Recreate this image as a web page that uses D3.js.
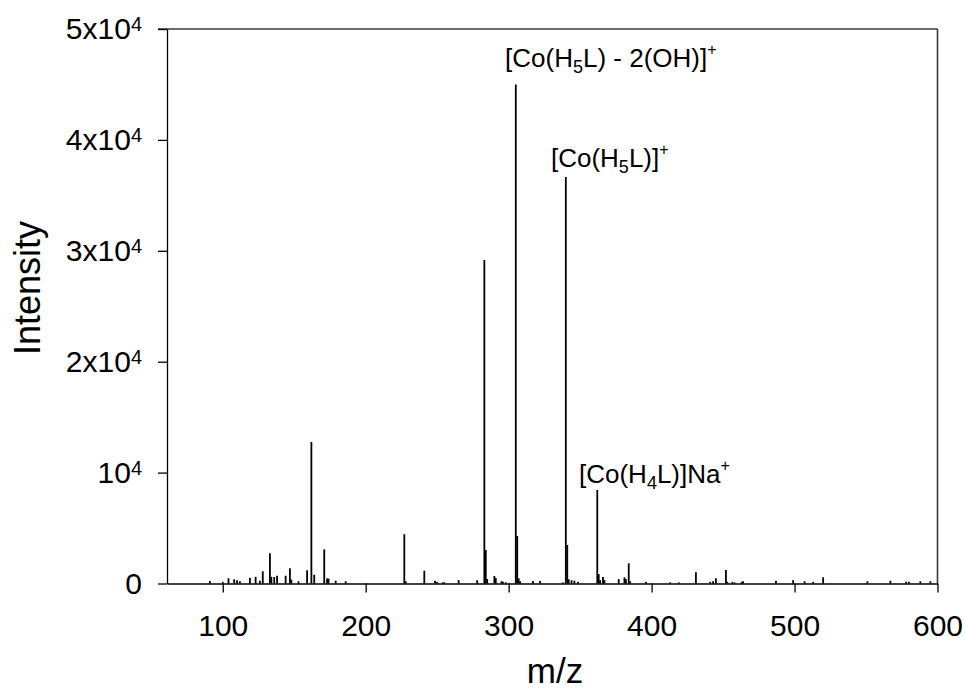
<!DOCTYPE html>
<html>
<head>
<meta charset="utf-8">
<script src="https://cdn.jsdelivr.net/npm/d3@7"></script>
<style>
  body { margin: 0; background: #fff; }
  svg { display: block; font-family: "Liberation Sans", Arial, sans-serif; }
</style>
</head>
<body>
<main></main>
<script>
"use strict";

// peak positions (m/z) and heights
const peakMz = [
  91, 100, 104, 108, 110, 112, 119, 123, 126, 128, 133, 134, 136, 138, 144, 147, 148, 153,
  159, 162, 164, 171, 173, 174, 179, 186, 227, 228, 241, 248.5, 250, 254, 255, 265, 278,
  283, 284, 285, 290, 291, 295, 296, 298, 305, 306, 307, 308, 317, 322, 338, 340, 341, 342,
  344, 346, 348.5, 362, 363, 364, 366, 367, 377, 381, 382, 384, 385, 396, 413, 419, 431,
  441, 443, 445, 452, 453, 456.5, 458, 463, 464, 487, 499, 507, 513, 520, 551, 567, 578,
  580, 588, 595
];
const peakIntensity = [
  225, 150, 470, 380, 300, 200, 520, 600, 250, 1100, 2720, 600, 580, 700, 700, 1370, 350, 200,
  1190, 12760, 790, 3080, 450, 450, 250, 200, 4440, 200, 1150, 250, 150, 100, 100, 310, 290,
  29170, 3020, 400, 680, 500, 200, 150, 100, 45000, 4280, 470, 200, 225, 225, 100, 36650, 3470, 380,
  300, 250, 150, 8430, 850, 300, 590, 300, 400, 560, 400, 1820, 200, 150, 100, 100, 1010,
  150, 200, 470, 1220, 150, 150, 100, 150, 200, 250, 300, 200, 150, 560, 200, 250, 150,
  150, 200, 200
];

const xTicks = [100, 200, 300, 400, 500, 600];
const yTicks = [0, 10000, 20000, 30000, 40000, 50000];

// ion labels: text before subscript, subscript, text after, superscript
const labelParts = [
  ["[Co(H", "5", "L) - 2(OH)]", "+"],
  ["[Co(H", "5", "L)]", "+"],
  ["[Co(H", "4", "L)]Na", "+"]
];
const labelMz = [297.5, 329.6, 349.2];
const labelAt = [46600, 37560, 9060];

const w = 966;
const h = 689;
const plotLeft = 167, plotRight = 937.5, plotTop = 29, plotBottom = 583.5;

const svg = d3.select("main").append("svg").attr("width", w).attr("height", h);

const x = d3.scaleLinear().domain([61, 600]).range([plotLeft, plotRight]);
const y = d3.scaleLinear().domain([0, 50000]).range([plotBottom, plotTop]);

//Frame on top and right
svg.append("line")
  .attr("x1", plotLeft - 9).attr("x2", plotRight)
  .attr("y1", plotTop).attr("y2", plotTop)
  .attr("stroke", "#3a3a3a").attr("stroke-width", 1.6);
svg.append("line")
  .attr("x1", plotRight).attr("x2", plotRight)
  .attr("y1", plotTop).attr("y2", plotBottom)
  .attr("stroke", "#3a3a3a").attr("stroke-width", 1.6);

//Peaks
svg.append("g")
  .selectAll("line")
  .data(peakMz)
  .enter()
  .append("line")
  .attr("x1", (d) => x(d))
  .attr("x2", (d) => x(d))
  .attr("y1", y(0))
  .attr("y2", (d, i) => y(peakIntensity[i]))
  .attr("stroke", "#000")
  .attr("stroke-width", 1.8);

//x Axis
const xAxis = d3.axisBottom(x).tickValues(xTicks).tickSize(9).tickSizeOuter(0).tickPadding(22);
const gx = svg.append("g").attr("transform", `translate(0, ${plotBottom})`).call(xAxis);
gx.attr("font-family", null).attr("font-size", 30);
gx.select(".domain").attr("stroke-width", 1.5);
gx.selectAll(".tick line").attr("stroke-width", 1.3);
gx.selectAll(".tick text").attr("fill", "#000");

//y Axis
const yAxis = d3.axisLeft(y).tickValues(yTicks).tickSize(9).tickSizeOuter(0).tickPadding(16);
const gy = svg.append("g").attr("transform", `translate(${plotLeft}, 0)`).call(yAxis);
gy.attr("font-family", null).attr("font-size", 30);
gy.select(".domain").attr("stroke-width", 1.3);
gy.selectAll(".tick line").attr("stroke-width", 1.3);
gy.selectAll(".tick text").each(function (d) {
  const t = d3.select(this).text(null).attr("fill", "#000");
  if (d === 0) {
    t.text("0");
    return;
  }
  const m = d / 10000;
  t.append("tspan").text(m === 1 ? "10" : `${m}x10`);
  t.append("tspan").attr("font-size", 20).attr("dy", -8).text("4");
});

//Axis titles
svg.append("text")
  .attr("transform", `translate(40, 288) rotate(-90)`)
  .attr("text-anchor", "middle")
  .attr("font-size", 36)
  .text("Intensity");
svg.append("text")
  .attr("x", 555).attr("y", 683)
  .attr("text-anchor", "middle")
  .attr("font-size", 35)
  .text("m/z");

//Ion labels
labelParts.forEach((p, i) => {
  const t = svg.append("text")
    .attr("x", x(labelMz[i]))
    .attr("y", y(labelAt[i]))
    .attr("font-size", 26);
  t.append("tspan").text(p[0]);
  t.append("tspan").attr("font-size", 18).attr("dy", 6).text(p[1]);
  t.append("tspan").attr("dy", -6).text(p[2]);
  t.append("tspan").attr("font-size", 16).attr("dy", -12).text(p[3]);
});
</script>
</body>
</html>
